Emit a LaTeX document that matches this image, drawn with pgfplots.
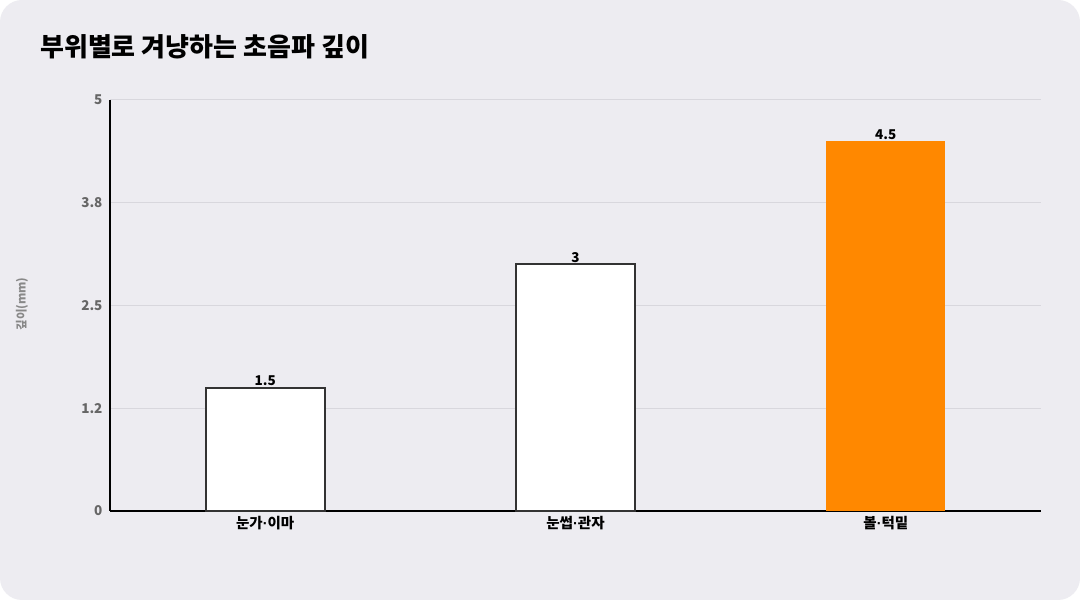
\documentclass[border=0pt]{standalone}
\usepackage{fontspec}
\setmainfont{Noto Sans CJK KR}
\newfontfamily\latinfont{Liberation Sans}
\usepackage{pgfplots}
\pgfplotsset{compat=1.18}

\definecolor{cardbg}{HTML}{EDECF1}
\definecolor{gridc}{HTML}{D8D7DD}
\definecolor{tickgray}{HTML}{666666}
\definecolor{labgray}{HTML}{888888}
\definecolor{barline}{HTML}{333333}
\definecolor{accent}{HTML}{FF8800}

\newcommand{\md}{{\latinfont\bfseries ·}}

\begin{document}
\begin{tikzpicture}
\fill[white] (0pt,0pt) rectangle (1080pt,600pt);
\fill[cardbg, rounded corners=22pt] (0pt,0pt) rectangle (1080pt,600pt);

% title
\node[anchor=base west, inner sep=0pt, font=\fontsize{26}{31}\selectfont\bfseries]
  at (40pt,543pt) {부위별로 겨냥하는 초음파 깊이};

% y label
\node[rotate=90, font=\fontsize{11.5}{13}\selectfont\bfseries, text=labgray]
  at (22pt,296pt) {깊이(mm)};

\begin{axis}[
    at={(110pt,89pt)}, anchor=south west,
    scale only axis,
    width=931pt, height=411pt,
    xmin=-0.5, xmax=2.5,
    ymin=0, ymax=5,
    axis x line*=bottom,
    axis y line*=left,
    axis line style={-, line width=2pt, black},
    major tick length=0pt,
    xtick={0,1,2},
    xticklabels={눈가\md 이마, 눈썹\md 관자, 볼\md 턱밑},
    ytick={0,1.25,2.5,3.75,5},
    yticklabels={0,1.2,2.5,3.8,5},
    ymajorgrids,
    grid style={gridc, line width=1pt},
    /pgf/number format/assume math mode=true,
    xticklabel style={font=\fontsize{14.5}{16}\selectfont\bfseries, text=black, yshift=-2pt},
    yticklabel style={font=\fontsize{13.5}{15}\selectfont\bfseries, text=tickgray, xshift=-4pt},
    ybar, bar width=119pt, bar shift=0pt,
    nodes near coords,
    every node near coord/.style={font=\fontsize{13.5}{15}\selectfont\bfseries, text=black, inner sep=1pt, anchor=south},
    clip=false,
]
\addplot[fill=white, draw=barline, line width=2pt] coordinates {(0,1.5) (1,3)};
\addplot[fill=accent, draw=none] coordinates {(2,4.5)};
\end{axis}
\end{tikzpicture}
\end{document}
